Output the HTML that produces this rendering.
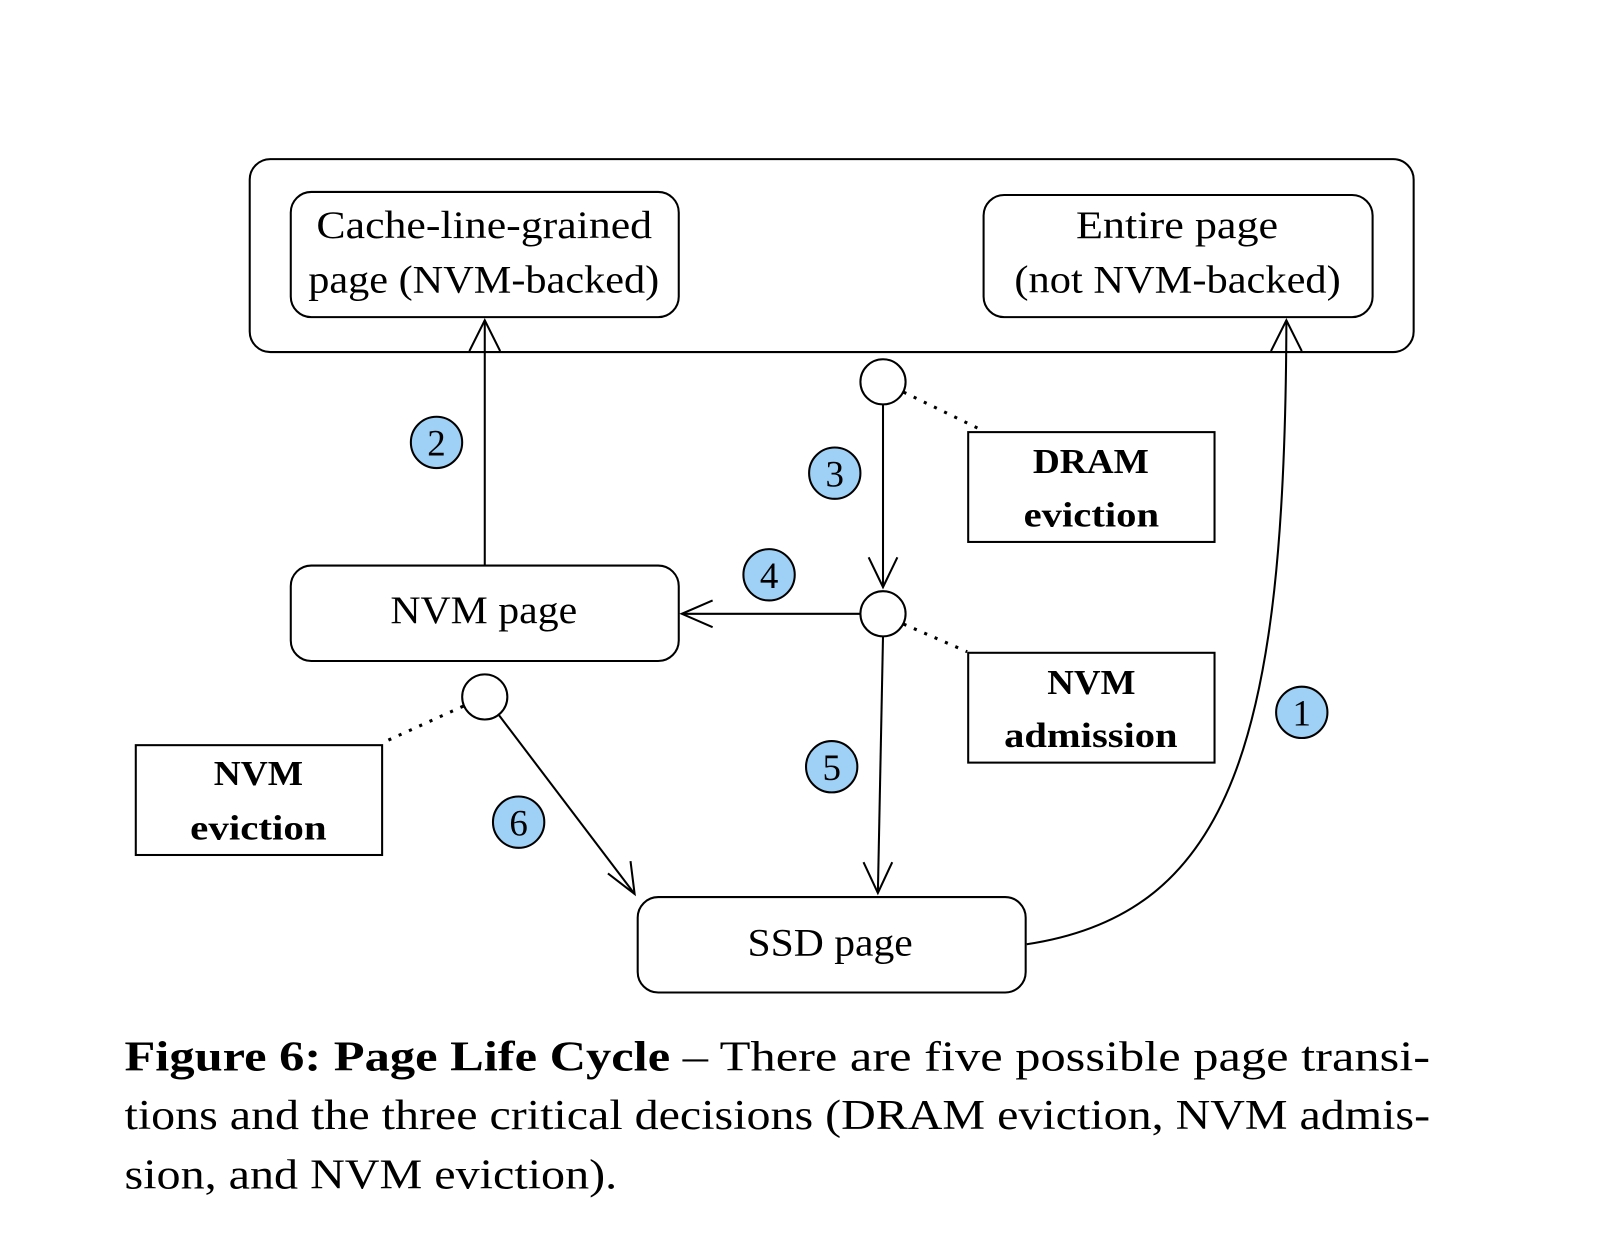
<!DOCTYPE html>
<html><head><meta charset="utf-8"><style>
html,body{margin:0;padding:0;background:#fff;}
svg{display:block;}
text{font-family:"Liberation Serif",serif;fill:#000;}
</style></head><body>
<svg width="1610" height="1244" viewBox="0 0 1568 1212" xmlns="http://www.w3.org/2000/svg">
<g fill="none" stroke="#000" stroke-width="2">
<rect x="243" y="155" width="1134" height="188" rx="20"/>
<rect x="283" y="187" width="378" height="122" rx="20"/>
<rect x="958" y="190" width="379" height="119" rx="20"/>
<rect x="283" y="551" width="378" height="93" rx="20"/>
<rect x="621" y="874" width="378" height="93" rx="20"/>
<rect x="943" y="421" width="240" height="107"/>
<rect x="943" y="636" width="240" height="107"/>
<rect x="132" y="726" width="240" height="107"/>
<circle cx="860" cy="372" r="22"/>
<circle cx="860" cy="598" r="22"/>
<circle cx="472" cy="679" r="22"/>
<line x1="472" y1="551" x2="472" y2="312"/>
<polyline points="457,342 472,312 487,342"/>
<line x1="860" y1="394" x2="860" y2="572"/>
<polyline points="846,543 860,572 874,543"/>
<line x1="838" y1="598" x2="664" y2="598"/>
<polyline points="694,585 664,598 694,611"/>
<line x1="860" y1="620" x2="855" y2="870"/>
<polyline points="841,840 855,870 869,840"/>
<line x1="486" y1="697" x2="618" y2="871"/>
<polyline points="592,851 618,871 614,839"/>
<path d="M1000,920 C1200,890 1252,720 1253,312"/>
<polyline points="1238,342 1253,312 1268,342"/>
<g stroke-dasharray="3,8" stroke-width="3">
<line x1="880" y1="382" x2="952" y2="417"/>
<line x1="880" y1="608" x2="942" y2="635"/>
<line x1="451" y1="688" x2="376" y2="722"/>
</g>
</g>
<g fill="#9fd0f5" stroke="#000" stroke-width="2">
<circle cx="1268" cy="694" r="25"/><circle cx="425" cy="431" r="25"/>
<circle cx="813" cy="461" r="25"/><circle cx="749" cy="560" r="25"/>
<circle cx="810" cy="747" r="25"/><circle cx="505" cy="801" r="25"/>
</g>
<g font-size="36" text-anchor="middle" style="font-family:'Liberation Sans',sans-serif">
<text x="1268" y="707">1</text><text x="425" y="444">2</text>
<text x="813" y="474">3</text><text x="749" y="573">4</text>
<text x="810" y="760">5</text><text x="505" y="814">6</text>
</g>
<g font-size="38" lengthAdjust="spacingAndGlyphs">
<text x="308" y="232" textLength="327" lengthAdjust="spacingAndGlyphs">Cache-line-grained</text>
<text x="300" y="285" textLength="342" lengthAdjust="spacingAndGlyphs">page (NVM-backed)</text>
<text x="1048" y="232" textLength="197" lengthAdjust="spacingAndGlyphs">Entire page</text>
<text x="988" y="285" textLength="318" lengthAdjust="spacingAndGlyphs">(not NVM-backed)</text>
<text x="380" y="607" textLength="182" lengthAdjust="spacingAndGlyphs">NVM page</text>
<text x="728" y="931" textLength="161" lengthAdjust="spacingAndGlyphs">SSD page</text>
</g>
<g font-size="34" font-weight="bold">
<text x="1006" y="461" textLength="113" lengthAdjust="spacingAndGlyphs">DRAM</text>
<text x="997" y="513" textLength="132" lengthAdjust="spacingAndGlyphs">eviction</text>
<text x="1020" y="676" textLength="86" lengthAdjust="spacingAndGlyphs">NVM</text>
<text x="978" y="728" textLength="169" lengthAdjust="spacingAndGlyphs">admission</text>
<text x="208" y="765" textLength="87" lengthAdjust="spacingAndGlyphs">NVM</text>
<text x="185" y="818" textLength="133" lengthAdjust="spacingAndGlyphs">eviction</text>
</g>
<g font-size="41">
<text x="121" y="1043" textLength="1272" lengthAdjust="spacingAndGlyphs"><tspan font-weight="bold">Figure 6: Page Life Cycle</tspan> – There are five possible page transi-</text>
<text x="121" y="1100" textLength="1272" lengthAdjust="spacingAndGlyphs">tions and the three critical decisions (DRAM eviction, NVM admis-</text>
<text x="121" y="1158" textLength="480" lengthAdjust="spacingAndGlyphs">sion, and NVM eviction).</text>
</g>
</svg>
</body></html>
